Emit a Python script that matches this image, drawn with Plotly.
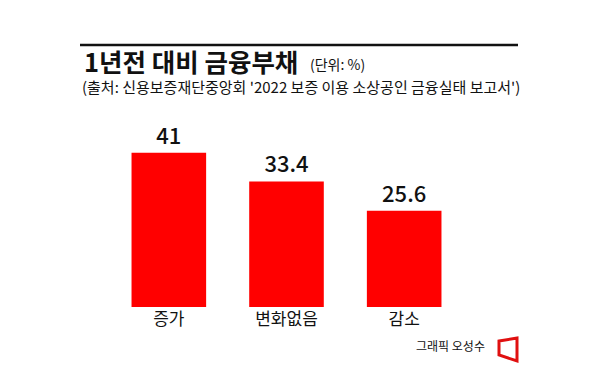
import plotly.graph_objects as go

categories = ["증가", "변화없음", "감소"]
values = [41, 33.4, 25.6]
value_labels = ["41", "33.4", "25.6"]

title_text = "1년전 대비 금융부채"
unit_text = "(단위: %)"
source_text = "(출처: 신용보증재단중앙회 '2022 보증 이용 소상공인 금융실태 보고서')"
credit_text = "그래픽 오성수"

# page has an 8px body margin, so the figure is drawn 8px smaller and offset
OFF = 8
W, H = 596 - OFF, 373 - OFF
KR = "Noto Sans CJK KR"
RED = "#ff0000"

fig = go.Figure()
fig.add_trace(go.Bar(
    x=categories, y=values, text=value_labels,
    textposition="outside", cliponaxis=False,
    textfont=dict(family=KR, size=22, color="#111111", weight=500),
    marker=dict(color=RED, line=dict(width=0)),
    hoverinfo="skip",
))

L = 110 - OFF
R_ = W - (463 - OFF)
T = 130 - OFF
B = H - (307 - OFF)
fig.update_layout(
    width=W, height=H,
    margin=dict(l=L, r=R_, t=T, b=B, pad=0),
    paper_bgcolor="white", plot_bgcolor="white",
    showlegend=False, bargap=0.366,
    font=dict(family=KR, color="#111111"),
    xaxis=dict(showgrid=False, showline=False, zeroline=False, ticks="",
               tickfont=dict(family=KR, size=17, color="#111111"), fixedrange=True),
    yaxis=dict(range=[0, 177 / 3.76], visible=False, fixedrange=True),
)


def px(x):
    return (x - OFF - L) / (W - L - R_)


def py(y):
    return (H - B - (y - OFF)) / (H - T - B)


# top rule
fig.add_shape(type="line", xref="paper", yref="paper",
              x0=px(80), x1=px(518), y0=py(45), y1=py(45),
              line=dict(color="#111111", width=2.5))

fig.add_annotation(text=f"<b>{title_text}</b>", xref="paper", yref="paper",
                   x=px(82), y=py(61), xanchor="left", yanchor="middle",
                   showarrow=False, font=dict(family=KR, size=25.5, color="#111111"))
fig.add_annotation(text=unit_text, xref="paper", yref="paper",
                   x=px(308), y=py(64), xanchor="left", yanchor="middle",
                   showarrow=False, font=dict(family=KR, size=14, color="#111111"))
fig.add_annotation(text=source_text, xref="paper", yref="paper",
                   x=px(80), y=py(87), xanchor="left", yanchor="middle",
                   showarrow=False, font=dict(family=KR, size=15, color="#111111"))
fig.add_annotation(text=credit_text, xref="paper", yref="paper",
                   x=px(487), y=py(345), xanchor="right", yanchor="middle",
                   showarrow=False, font=dict(family=KR, size=12, color="#111111"))

# logo trapezoid
fig.add_shape(type="path", xref="paper", yref="paper",
              path=f"M {px(499)},{py(341)} L {px(517)},{py(338)} L {px(517)},{py(361)} L {px(499)},{py(355)} Z",
              line=dict(color="#e01010", width=3), fillcolor="rgba(0,0,0,0)")

fig.write_html("out.html")
